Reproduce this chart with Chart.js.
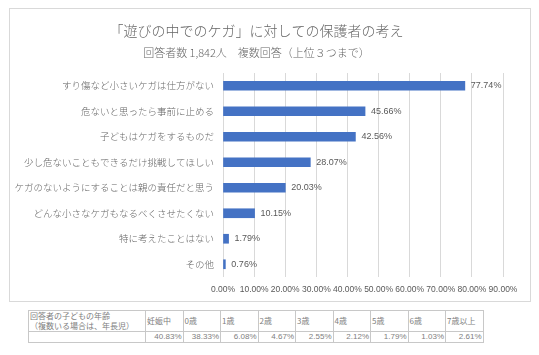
<!DOCTYPE html>
<html><head><meta charset="utf-8">
<script src="https://cdn.jsdelivr.net/npm/chart.js@4"></script>
<style>
html,body{margin:0;padding:0;background:#fff;width:539px;height:355px;overflow:hidden;}
#box{position:absolute;left:9px;top:8px;width:522px;height:294px;box-sizing:border-box;border:1px solid #d9d9d9;}
#box canvas{display:block;}
table{position:absolute;left:28px;top:310px;border-collapse:collapse;table-layout:fixed;width:455px;font-family:"Noto Sans CJK JP",sans-serif;font-size:8px;color:#808080;}
td{border:1px solid #c8c8c8;padding:0 1px;white-space:nowrap;overflow:hidden;}
tr.h td{height:20px;line-height:10px;vertical-align:middle;text-align:left;}
tr.v td{height:10px;line-height:10px;text-align:right;font-family:"Liberation Sans",sans-serif;padding:0 1px 0 0;}
</style></head><body>
<div id="box"><canvas id="c" width="520" height="292"></canvas></div>
<table id="t"><colgroup id="cg"></colgroup><tr class="h"></tr><tr class="v"></tr></table>
<script>
const titleText = "「遊びの中でのケガ」に対しての保護者の考え";
const subtitleText = "回答者数 1,842人　複数回答（上位３つまで）";
const categories = [
  "すり傷など小さいケガは仕方がない",
  "危ないと思ったら事前に止める",
  "子どもはケガをするものだ",
  "少し危ないこともできるだけ挑戦してほしい",
  "ケガのないようにすることは親の責任だと思う",
  "どんな小さなケガもなるべくさせたくない",
  "特に考えたことはない",
  "その他"
];
const values = [77.74, 45.66, 42.56, 28.07, 20.03, 10.15, 1.79, 0.76];
const tableHeader = ["回答者の子どもの年齢<br>（複数いる場合は、年長児）"];
const ageGroups = ["妊娠中","0歳","1歳","2歳","3歳","4歳","5歳","6歳","7歳以上"];
const agePercents = [40.83, 38.33, 6.08, 4.67, 2.55, 2.12, 1.79, 1.03, 2.61];

// table
document.getElementById('cg').innerHTML = '<col style="width:117px">' + ageGroups.map(() => '<col style="width:37.5px">').join('');
const hr = document.querySelector('tr.h'), vr = document.querySelector('tr.v');
hr.innerHTML = '<td>' + tableHeader[0] + '</td>' + ageGroups.map(a => '<td>' + a + '</td>').join('');
vr.innerHTML = '<td></td>' + agePercents.map(p => '<td>' + p.toFixed(2) + '%</td>').join('');

const labelPlugin = {
  id: 'barLabels',
  afterDatasetsDraw(chart) {
    const ctx = chart.ctx;
    const meta = chart.getDatasetMeta(0);
    ctx.save();
    ctx.font = '9px "Liberation Sans", sans-serif';
    ctx.fillStyle = '#595959';
    ctx.textBaseline = 'middle';
    ctx.textAlign = 'left';
    meta.data.forEach((bar, i) => {
      ctx.fillText(values[i].toFixed(2) + '%', bar.x + 6, bar.y);
    });
    ctx.restore();
  }
};

new Chart(document.getElementById('c'), {
  type: 'bar',
  data: {
    labels: categories,
    datasets: [{
      data: values,
      backgroundColor: '#4472c4',
      borderWidth: 0,
      barThickness: 9
    }]
  },
  options: {
    indexAxis: 'y',
    responsive: false,
    animation: false,
    layout: { padding: { left: 0, right: 27, top: 0, bottom: 0 } },
    plugins: {
      legend: { display: false },
      tooltip: { enabled: false },
      title: {
        display: true, text: titleText, color: '#666666',
        font: { family: '"Noto Sans CJK JP", sans-serif', size: 14, weight: 300 },
        padding: { top: 13, bottom: 2 }
      },
      subtitle: {
        display: true, text: subtitleText, color: '#666666',
        font: { family: '"Noto Sans CJK JP", sans-serif', size: 11, weight: 300 },
        padding: { top: 5, bottom: 14 }
      }
    },
    scales: {
      x: {
        min: 0, max: 90,
        grid: { color: '#d9d9d9', lineWidth: 1, drawTicks: false },
        border: { display: false },
        ticks: {
          stepSize: 10, autoSkip: false, maxRotation: 0, padding: 8,
          color: '#595959',
          font: { family: '"Liberation Sans", sans-serif', size: 8.5 },
          callback: v => v.toFixed(2) + '%'
        },
        afterFit(scale) { scale.height = 24; }
      },
      y: {
        grid: { display: false, drawTicks: false },
        border: { display: false },
        ticks: {
          padding: 9, color: '#666666', autoSkip: false,
          font: { family: '"Noto Sans CJK JP", sans-serif', size: 9.5, weight: 300 }
        },
        afterFit(scale) { scale.width = 213; }
      }
    }
  },
  plugins: [labelPlugin]
});
</script>
</body></html>
